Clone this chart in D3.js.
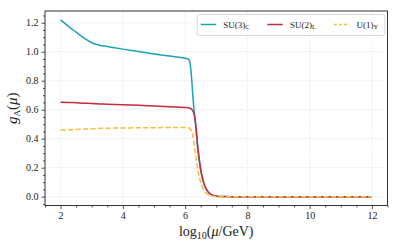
<!DOCTYPE html>
<html>
<head>
<meta charset="utf-8">
<script src="https://cdn.jsdelivr.net/npm/d3@7"></script>
<style>
  body { margin: 0; background: #fff; }
  svg { display: block; }
  text { font-family: "Liberation Serif", "DejaVu Serif", serif; fill: #222; }
</style>
</head>
<body>
<svg id="chart" width="399" height="248"></svg>
<script>
// log10(mu/GeV) sample points
let logMu = [2, 2.25, 2.5, 2.75, 3, 3.25, 3.5, 4, 4.5, 5, 5.5, 6, 6.1, 6.15, 6.2, 6.25, 6.3, 6.35,
             6.4, 6.45, 6.5, 6.6, 6.7, 6.8, 6.9, 7.0, 7.25, 7.5, 8, 9, 10, 11, 12];

let gSU3 = [1.22, 1.175, 1.135, 1.095, 1.062, 1.045, 1.036, 1.018, 1.001, 0.985, 0.97, 0.955, 0.95, 0.93,
            0.84, 0.69, 0.57, 0.47, 0.34, 0.25, 0.18, 0.09, 0.045, 0.02, 0.008, 0.003, 0.001, 0, 0, 0, 0, 0, 0];

let gSU2 = [0.652, 0.65, 0.648, 0.645, 0.643, 0.64, 0.638, 0.634, 0.63, 0.625, 0.62, 0.616, 0.614, 0.61,
            0.605, 0.59, 0.56, 0.48, 0.36, 0.27, 0.19, 0.095, 0.045, 0.02, 0.008, 0.003, 0.001, 0, 0, 0, 0, 0, 0];

let gU1 = [0.46, 0.461, 0.463, 0.466, 0.469, 0.471, 0.472, 0.474, 0.475, 0.476, 0.477, 0.477, 0.476, 0.47,
           0.455, 0.42, 0.34, 0.27, 0.2, 0.14, 0.1, 0.045, 0.02, 0.008, 0.003, 0.001, 0, 0, 0, 0, 0, 0, 0];

let xTicks = [2, 4, 6, 8, 10, 12];
let yTicks = [0.0, 0.2, 0.4, 0.6, 0.8, 1.0, 1.2];

let seriesNames = [["SU(3)", "C"], ["SU(2)", "L"], ["U(1)", "Y"]];
let seriesColors = ["#1aa2b7", "#c9283f", "#f2c040"];
let seriesDash = [null, null, "5.2,2.3"];

let margin = {left: 45, right: 11.5, top: 11, bottom: 42.5};
let W = 399, H = 248;

let svg = d3.select('#chart');

let x = d3.scaleLinear()
    .domain([1.5, 12.5])
    .range([margin.left, W - margin.right]);

let y = d3.scaleLinear()
    .domain([-0.061, 1.281])
    .range([H - margin.bottom, margin.top]);

// grid lines
let grid = svg.append('g');
grid.selectAll('.gx').data(xTicks).enter().append('line')
    .attr('x1', d => x(d)).attr('x2', d => x(d))
    .attr('y1', y.range()[0]).attr('y2', y.range()[1])
    .attr('stroke', '#d4d4d4').attr('stroke-width', 0.7).attr('stroke-dasharray', '1,1.6');
grid.selectAll('.gy').data(yTicks).enter().append('line')
    .attr('y1', d => y(d)).attr('y2', d => y(d))
    .attr('x1', x.range()[0]).attr('x2', x.range()[1])
    .attr('stroke', '#d4d4d4').attr('stroke-width', 0.7).attr('stroke-dasharray', '1,1.6');

// series
let series = [gSU3, gSU2, gU1];
let line = d3.line()
    .x((d, i) => x(logMu[i]))
    .y(d => y(d))
    .curve(d3.curveMonotoneX);

series.forEach(function(s, k){
    svg.append('path')
        .datum(s)
        .attr('d', line)
        .attr('fill', 'none')
        .attr('stroke', seriesColors[k])
        .attr('stroke-width', 1.5)
        .attr('stroke-dasharray', seriesDash[k]);
});

// axes
let xMinor = d3.range(1.5, 12.51, 0.5).filter(v => !xTicks.includes(v));
let yMinor = d3.range(-0.05, 1.28, 0.05).map(v => +v.toFixed(2)).filter(v => !yTicks.some(t => Math.abs(t - v) < 1e-6));

let xAxis = svg.append('g')
    .attr('transform', 'translate(0,' + y.range()[0] + ')')
    .call(d3.axisBottom(x).tickValues(xTicks).tickFormat(d3.format('d')).tickSize(3.5).tickPadding(3));
let xAxisMinor = svg.append('g')
    .attr('transform', 'translate(0,' + y.range()[0] + ')')
    .call(d3.axisBottom(x).tickValues(xMinor).tickFormat('').tickSize(2));

let yAxis = svg.append('g')
    .attr('transform', 'translate(' + x.range()[0] + ',0)')
    .call(d3.axisLeft(y).tickValues(yTicks).tickFormat(d3.format('.1f')).tickSize(3.5).tickPadding(3));
let yAxisMinor = svg.append('g')
    .attr('transform', 'translate(' + x.range()[0] + ',0)')
    .call(d3.axisLeft(y).tickValues(yMinor).tickFormat('').tickSize(2));

[xAxis, xAxisMinor, yAxis, yAxisMinor].forEach(function(a){
    a.select('.domain').remove();
    a.selectAll('line').attr('stroke', '#222').attr('stroke-width', 0.8);
    a.selectAll('text').style('font-family', '"Liberation Serif", serif').style('font-size', '10px').attr('fill', '#222');
});

// frame
svg.append('rect')
    .attr('x', x.range()[0]).attr('y', y.range()[1])
    .attr('width', x.range()[1] - x.range()[0])
    .attr('height', y.range()[0] - y.range()[1])
    .attr('fill', 'none').attr('stroke', '#333').attr('stroke-width', 1);

// axis labels
let xl = svg.append('text')
    .attr('x', (x.range()[0] + x.range()[1]) / 2)
    .attr('y', 236)
    .attr('text-anchor', 'middle')
    .style('font-size', '14px');
xl.append('tspan').text('log');
xl.append('tspan').attr('dy', 3).style('font-size', '10px').text('10');
xl.append('tspan').attr('dy', -3).text('(');
xl.append('tspan').style('font-style', 'italic').text('μ');
xl.append('tspan').text('/GeV)');

let yl = svg.append('text')
    .attr('transform', 'translate(16.5,' + ((y.range()[0] + y.range()[1]) / 2) + ') rotate(-90)')
    .attr('text-anchor', 'middle')
    .style('font-size', '15px');
yl.append('tspan').style('font-style', 'italic').text('g');
yl.append('tspan').attr('dy', 3).style('font-size', '9px').text('A');
yl.append('tspan').attr('dy', -3).text('(');
yl.append('tspan').style('font-style', 'italic').text('μ');
yl.append('tspan').text(')');

// legend
let legend = svg.append('g');
legend.append('rect')
    .attr('x', 197.3).attr('y', 14.5)
    .attr('width', 187.5).attr('height', 21)
    .attr('rx', 2)
    .attr('fill', '#fff').attr('fill-opacity', 0.85)
    .attr('stroke', '#cfcfcf').attr('stroke-width', 0.8);

seriesNames.forEach(function(nm, k){
    let g = legend.append('g').attr('transform', 'translate(' + (200.7 + k * 66.6) + ',24.5)');
    g.append('line')
        .attr('x1', 0).attr('x2', 15.5)
        .attr('stroke', seriesColors[k]).attr('stroke-width', 1.5)
        .attr('stroke-dasharray', seriesDash[k] ? '3,2' : null);
    let t = g.append('text').attr('x', 22.6).attr('y', 3).style('font-size', '9px');
    t.append('tspan').text(nm[0]);
    t.append('tspan').attr('dy', 1.8).style('font-size', '6.5px').text(nm[1]);
});
</script>
</body>
</html>
